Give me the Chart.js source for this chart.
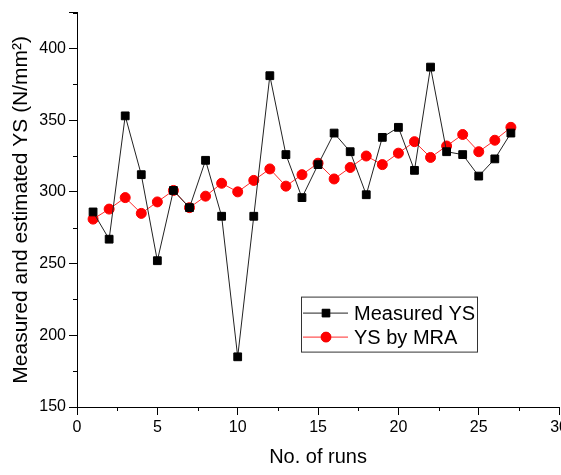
<!DOCTYPE html>
<html>
<head>
<meta charset="utf-8">
<script src="https://cdn.jsdelivr.net/npm/chart.js@4/dist/chart.umd.min.js"></script>
<style>
  html, body { margin: 0; padding: 0; background: #fff; overflow: hidden; }
  #wrap { width: 571px; height: 475px; }
</style>
</head>
<body>
<div id="wrap"><canvas id="c"></canvas></div>
<script>
// run numbers
const runs = [1, 2, 3, 4, 5, 6, 7, 8, 9, 10, 11, 12, 13, 14, 15, 16, 17, 18, 19, 20, 21, 22, 23, 24, 25, 26, 27];
// measured yield strength
const measuredYS = [286, 267, 353, 312, 252, 301, 289, 322, 283, 185, 283, 381, 326, 296, 319, 341, 328, 298, 338, 345, 315, 387, 328, 326, 311, 323, 341];
// YS estimated by MRA
const mraYS = [281, 288, 296, 285, 293, 301, 289, 297, 306, 300, 308, 316, 304, 312, 320, 309, 317, 325, 319, 327, 335, 324, 332, 340, 328, 336, 345];

const seriesLabels = ['Measured YS', 'YS by MRA'];

const FONT = 'Arial, "Liberation Sans", sans-serif';

/**
 * Малые деления на осях (Chart.js их не рисует)
 */
const minorTicks = {
  id: 'minorTicks',
  afterDraw(chart) {
    const { ctx, scales: { x, y } } = chart;
    ctx.save();
    ctx.strokeStyle = '#000';
    ctx.lineWidth = 1;
    ctx.beginPath();
    for (let v = 2.5; v < 30; v += 5) {
      const px = Math.round(x.getPixelForValue(v)) + 0.5;
      ctx.moveTo(px, y.bottom);
      ctx.lineTo(px, y.bottom + 4);
    }
    for (let v = 175; v <= 425; v += 50) {
      const py = Math.round(y.getPixelForValue(v)) + 0.5;
      ctx.moveTo(x.left, py);
      ctx.lineTo(x.left - 4, py);
    }
    ctx.stroke();
    ctx.restore();
  }
};

/**
 * Легенда в рамке внутри области графика
 */
const boxLegend = {
  id: 'boxLegend',
  afterDraw(chart) {
    const { ctx, chartArea } = chart;
    const left = chartArea.left + 224;
    const top = chartArea.top + 284;
    const w = 176, h = 55;
    ctx.save();
    ctx.strokeStyle = '#333';
    ctx.lineWidth = 1;
    ctx.strokeRect(left + 0.5, top + 0.5, w, h);

    const rows = [16, 40];
    chart.data.datasets.forEach((ds, i) => {
      const yy = top + rows[i] + 0.5;
      ctx.strokeStyle = ds.borderColor;
      ctx.beginPath();
      ctx.moveTo(left + 2, yy);
      ctx.lineTo(left + 47, yy);
      ctx.stroke();
      Chart.helpers.drawPoint(ctx, {
        pointStyle: ds.pointStyle,
        radius: ds.pointRadius,
        borderWidth: 1
      }, left + 25, yy);
      ctx.fillStyle = ds.pointBackgroundColor;
      ctx.fill();

      ctx.fillStyle = '#000';
      ctx.font = '20px ' + FONT;
      ctx.textBaseline = 'middle';
      ctx.fillText(ds.label, left + 53, yy + 1);
    });
    ctx.restore();
  }
};

new Chart(document.getElementById('c'), {
  type: 'line',
  data: {
    labels: runs,
    datasets: [
      {
        label: seriesLabels[0],
        data: runs.map((r, i) => ({ x: r, y: measuredYS[i] })),
        borderColor: '#222',
        borderWidth: 1,
        pointStyle: 'rect',
        pointRadius: 5.5,
        pointBackgroundColor: '#000',
        pointBorderColor: '#000',
        pointBorderWidth: 1,
        tension: 0
      },
      {
        label: seriesLabels[1],
        data: runs.map((r, i) => ({ x: r, y: mraYS[i] })),
        borderColor: '#ff2a2a',
        borderWidth: 1,
        pointStyle: 'circle',
        pointRadius: 5,
        pointBackgroundColor: '#ff0000',
        pointBorderColor: '#ff0000',
        pointBorderWidth: 1,
        tension: 0
      }
    ]
  },
  options: {
    responsive: true,
    maintainAspectRatio: false,
    animation: false,
    layout: { padding: { top: 10, left: 0, right: 0, bottom: 0 } },
    plugins: {
      legend: { display: false },
      tooltip: { enabled: false }
    },
    scales: {
      x: {
        type: 'linear',
        min: 0,
        max: 30,
        border: { display: true, color: '#000', width: 1 },
        grid: { display: true, drawOnChartArea: false, tickLength: 8, color: '#000' },
        ticks: {
          stepSize: 5,
          color: '#000',
          padding: 3,
          font: { family: FONT, size: 16 }
        },
        title: {
          display: true,
          text: 'No. of runs',
          color: '#000',
          padding: { top: 8, bottom: 6 },
          font: { family: FONT, size: 20 }
        },
        afterFit: (s) => { s.height = 68; }
      },
      y: {
        min: 150,
        max: 425,
        border: { display: true, color: '#000', width: 1 },
        grid: { display: true, drawOnChartArea: false, tickLength: 8, color: '#000' },
        ticks: {
          stepSize: 50,
          color: '#000',
          padding: 3,
          font: { family: FONT, size: 16 },
          callback: (v) => (v % 50 === 0 ? v : '')
        },
        title: {
          display: true,
          text: 'Measured and estimated YS (N/mm²)',
          color: '#000',
          padding: { top: 9, bottom: 0 },
          font: { family: FONT, size: 21 }
        },
        afterFit: (s) => { s.width = 77; }
      }
    }
  },
  plugins: [minorTicks, boxLegend]
});
</script>
</body>
</html>
